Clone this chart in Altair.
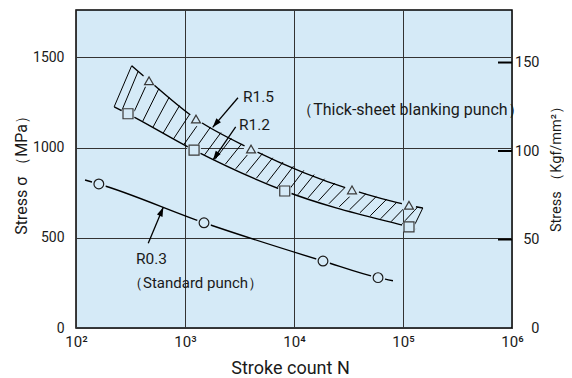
import altair as alt
import numpy as np
import pandas as pd

# ---------------- data ----------------
# Standard punch R0.3 (circles)
std_n = [162, 1494, 18450, 59000]
std_s = [798, 583, 371, 279]
std_line_n = [121, 162, 1494, 18450, 59000, 80900]
std_line_s = [820, 798, 583, 371, 279, 262]

# Thick-sheet blanking punch, R1.5 (triangles, upper edge of band)
r15_n = [468, 1262, 4036, 34050, 113500]
r15_s = [1370, 1158, 992, 765, 680]
r15_line_n = [324, 468, 1262, 4036, 34050, 113500, 152000]
r15_line_s = [1453, 1370, 1158, 992, 765, 680, 665]

# Thick-sheet blanking punch, R1.2 (squares, lower edge of band)
r12_n = [300, 1211, 8225, 113500]
r12_s = [1187, 986, 759, 560]
r12_line_n = [224, 300, 1211, 8225, 113500, 131500]
r12_line_s = [1226, 1187, 986, 759, 560, 550]

x_ticks = [100, 1000, 10000, 100000, 1000000]
x_labels = ["10²", "10³", "10⁴", "10⁵", "10⁶"]
y_ticks = [0, 500, 1000, 1500]
kgf_ticks = [0, 50, 100, 150]
kgf_marks = [50, 100, 150]

ann_text = ["R1.5", "R1.2", "（Thick-sheet blanking punch）", "R0.3", "（Standard punch）"]

# ---------------- layout / style ----------------
W, H = 436, 318
Y_MAX = 1762
KGF = 9.80665
BG = "#d5eaf7"
FONT = "Roboto"
INK = "#1a1a1a"

xscale = alt.Scale(type="log", domain=[100, 1000000], nice=False)
yscale = alt.Scale(domain=[0, Y_MAX], nice=False, zero=False)

lab_arr = "[" + ",".join("'%s'" % l for l in x_labels) + "]"
label_expr = lab_arr + "[round(log(datum.value)/LN10) - 2]"

x_axis = alt.Axis(values=x_ticks, labelExpr=label_expr, grid=True, gridColor="#333",
                  gridOpacity=1, gridWidth=1, domain=False, ticks=False, labelPadding=6,
                  labelFontSize=15, title="Stroke count N", titleFontSize=18,
                  titleFontWeight="normal", titleX=214, titleY=40,
                  titleBaseline="middle", titleAlign="center", labelFlush=False)
y_axis = alt.Axis(values=y_ticks, format="d", grid=True, gridColor="#333", gridOpacity=1,
                  gridWidth=1, domain=False, ticks=False, labelPadding=12, labelFontSize=14,
                  title="Stress σ （MPa）", titleFontSize=16, titleFontWeight="normal",
                  titleX=-55, titleY=161, titleAngle=270, titleBaseline="middle",
                  titleAlign="center")


def X(field="n"):
    return alt.X(field + ":Q", scale=xscale, axis=x_axis, title="Stroke count N")


def Y(field="s"):
    return alt.Y(field + ":Q", scale=yscale, axis=y_axis, title="Stress σ （MPa）")


def df(n, s):
    return pd.DataFrame({"n": n, "s": s})


line_kw = dict(color="black", strokeWidth=1.4, interpolate="monotone")

std_line = alt.Chart(df(std_line_n, std_line_s)).mark_line(**line_kw).encode(x=X(), y=Y())
r15_line = alt.Chart(df(r15_line_n, r15_line_s)).mark_line(**line_kw).encode(x=X(), y=Y())
r12_line = alt.Chart(df(r12_line_n, r12_line_s)).mark_line(**line_kw).encode(x=X(), y=Y())

# ---- hatching of the band (decoration derived from the two edges) ----
lo_lx = np.log10(r12_line_n)
up_lx = np.log10(r15_line_n)
d = 0.15
starts = np.arange(2.42, up_lx[-1] - d + 1e-9, 0.095)
h_n, h_s, h_n2, h_s2 = [], [], [], []
for a in starts:
    if a + d > up_lx[-1] or a > lo_lx[-1]:
        break
    h_n.append(10 ** a)
    h_s.append(float(np.interp(a, lo_lx, r12_line_s)))
    h_n2.append(10 ** (a + d))
    h_s2.append(float(np.interp(a + d, up_lx, r15_line_s)))
hatch_df = pd.DataFrame({"n": h_n, "s": h_s, "n2": h_n2, "s2": h_s2})
caps_df = pd.DataFrame({
    "n": [r12_line_n[0], 124000],
    "s": [r12_line_s[0], 555],
    "n2": [r15_line_n[0], r15_line_n[-1]],
    "s2": [r15_line_s[0], r15_line_s[-1]],
})
seg_enc = dict(x=X(), y=Y(), x2="n2:Q", y2="s2:Q")
hatch = alt.Chart(hatch_df).mark_rule(color="black", strokeWidth=1).encode(**seg_enc)
caps = alt.Chart(caps_df).mark_rule(color="black", strokeWidth=1).encode(**seg_enc)

# ---- knock-out halos so lines break around markers ----
all_n = std_n + r15_n + r12_n
all_s = std_s + r15_s + r12_s
halo = alt.Chart(df(all_n, all_s)).mark_point(
    shape="circle", size=210, filled=True, color=BG, opacity=1).encode(x=X(), y=Y())

circles = alt.Chart(df(std_n, std_s)).mark_point(
    shape="circle", size=95, filled=True, color=BG, stroke=INK, strokeWidth=1.2,
    opacity=1).encode(x=X(), y=Y())
tris = alt.Chart(df(r15_n, r15_s)).mark_point(
    shape="triangle-up", size=80, filled=True, color=BG, stroke="#3a3a3a", strokeWidth=1.2,
    opacity=1).encode(x=X(), y=Y())
squares = alt.Chart(df(r12_n, r12_s)).mark_point(
    shape="square", size=100, filled=True, color=BG, stroke="#3a3a3a", strokeWidth=1.2,
    opacity=1).encode(x=X(), y=Y())

# ---- annotation arrows ----
arrows_df = pd.DataFrame({
    "n": [3062, 2917, 460],
    "s": [1276, 1114, 469],
    "n2": [1795, 1807, 632],
    "s2": [1112, 931, 669],
    "ang": [220.5, 214.5, 22.6],
})
shafts = alt.Chart(arrows_df).mark_rule(color="black", strokeWidth=1.3).encode(**seg_enc)
heads_df = pd.DataFrame({"n": arrows_df["n2"], "s": arrows_df["s2"], "ang": arrows_df["ang"]})
heads = alt.Chart(heads_df).mark_point(
    shape="M0,0L0.85,2.6L-0.85,2.6Z", size=50, filled=True, color="black", opacity=1
).encode(x=X(), y=Y(), angle=alt.Angle("ang:Q", scale=None))

ann_df = pd.DataFrame({
    "t": ann_text,
    "n": [3404, 3126, 10700, 355, 300],
    "s": [1282, 1125, 1208, 382, 251],
    "fs": [15.5, 15.5, 16, 15.5, 15],
})
texts = alt.Chart(ann_df).mark_text(
    align="left", baseline="middle", color=INK, font=FONT).encode(
    x=X(), y=Y(), text="t:N", size=alt.Size("fs:Q", scale=None, legend=None))

main = alt.layer(std_line, r15_line, r12_line, hatch, caps, halo, circles, tris, squares,
                 shafts, heads, texts)

# ---- right-hand axis in kgf/mm² (same scale, values converted) ----
kgf_df = pd.DataFrame({"s": [k * KGF for k in kgf_marks]})
kgf_axis = alt.Axis(orient="right", values=[k * KGF for k in kgf_ticks],
                    labelExpr="format(datum.value / %f, '.0f')" % KGF,
                    grid=False, domain=False, ticks=False, labelAlign="right",
                    labelPadding=27, labelFontSize=14.5, title="Stress （Kgf/mm²）",
                    titleAngle=270, titleFontSize=14.5, titleFontWeight="normal",
                    titleX=44, titleY=155, titleBaseline="middle", titleAlign="center")
kgf_layer = alt.Chart(kgf_df).mark_rule(color="black", strokeWidth=2).encode(
    y=alt.Y("s:Q", scale=yscale, axis=kgf_axis),
    x=alt.value(W - 14), x2=alt.value(W))

chart = alt.layer(main, kgf_layer).resolve_axis(y="independent").properties(
    width=W, height=H,
    autosize=alt.AutoSizeParams(type="none"),
    padding={"left": 68, "top": 2, "right": 52, "bottom": 50},
    background="white",
).configure_view(fill=BG, stroke="black", strokeWidth=1.5).configure_axis(
    labelFont=FONT, titleFont=FONT, labelColor=INK, titleColor=INK)

chart.save("out.html", embed_options={"renderer": "svg", "actions": False})
